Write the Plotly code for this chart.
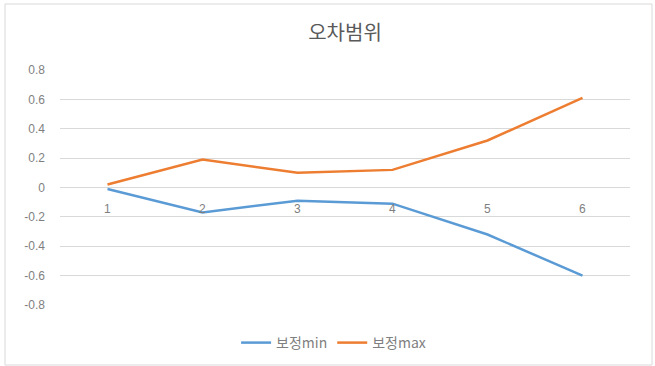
import plotly.graph_objects as go

categories = ["1", "2", "3", "4", "5", "6"]
min_values = [-0.01, -0.17, -0.09, -0.11, -0.32, -0.60]
max_values = [0.02, 0.19, 0.10, 0.12, 0.32, 0.61]
y_ticks = [-0.8, -0.6, -0.4, -0.2, 0, 0.2, 0.4, 0.6, 0.8]
y_tick_labels = ["-0.8", "-0.6", "-0.4", "-0.2", "0", "0.2", "0.4", "0.6", "0.8"]
series_names = ["보정min", "보정max"]
title_text = "오차범위"

W, H = 655, 366
L, R, T, B = 60, 25, 70, 61
pw, ph = W - L - R, H - T - B

fig = go.Figure()
fig.add_trace(go.Scatter(x=categories, y=min_values, mode="lines", name=series_names[0],
                         line=dict(color="#5B9BD5", width=2.5)))
fig.add_trace(go.Scatter(x=categories, y=max_values, mode="lines", name=series_names[1],
                         line=dict(color="#ED7D31", width=2.5)))

# category labels sit just below the zero line (axis crosses at 0)
for i, c in enumerate(categories):
    fig.add_annotation(x=i, y=0, text=c, showarrow=False, yanchor="middle", yshift=-21,
                       font=dict(size=12, color="#7f7f7f", family="Liberation Sans"))

# chart border
fig.add_shape(type="rect", xref="paper", yref="paper",
              x0=(5 - L) / pw, x1=(652 - L) / pw, y0=-(H - 1 - (T + ph)) / ph, y1=(T + ph - 4) / ph,
              line=dict(color="#D9D9D9", width=1), fillcolor="rgba(0,0,0,0)", layer="below")

fig.update_layout(
    width=W, height=H,
    margin=dict(l=L, r=R, t=T, b=B, autoexpand=False),
    paper_bgcolor="white", plot_bgcolor="white",
    title=dict(text=title_text, x=0.5, xanchor="center", xref="paper", y=1 - 33 / H, yanchor="middle",
               font=dict(size=20, color="#595959", family="Noto Sans CJK KR")),
    xaxis=dict(type="category", range=[-0.5, 5.5], showticklabels=False, showgrid=False,
               zeroline=False, showline=False, ticks=""),
    yaxis=dict(range=[-0.8, 0.8], tickvals=y_ticks, ticktext=y_tick_labels, showgrid=True,
               gridcolor="#D9D9D9", gridwidth=1, zeroline=True, zerolinecolor="#D9D9D9", zerolinewidth=1,
               showline=False, ticks="", ticklabelstandoff=14,
               tickfont=dict(size=12, color="#7f7f7f", family="Liberation Sans")),
    showlegend=True,
    legend=dict(orientation="h", x=0.48, xanchor="center", y=-(343 - (T + ph)) / ph, yanchor="middle",
                font=dict(size=14, color="#7f7f7f", family="Noto Sans CJK KR"),
                bgcolor="rgba(0,0,0,0)"),
)

fig.write_html("out.html")
